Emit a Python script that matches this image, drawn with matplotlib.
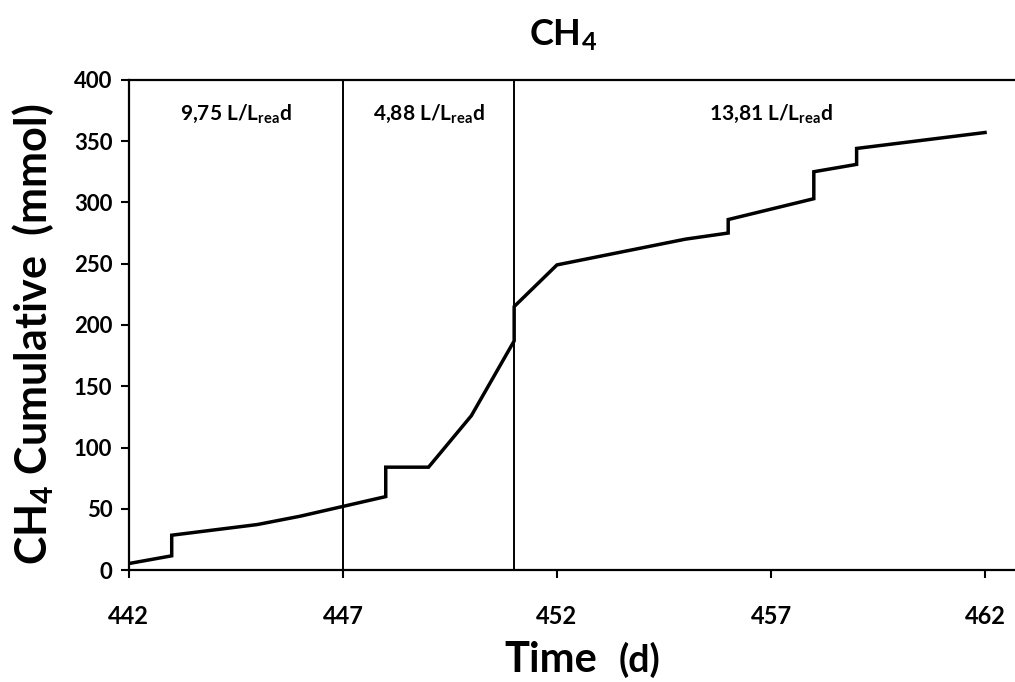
import matplotlib
matplotlib.use("Agg")
import matplotlib.pyplot as plt

# data (time in d, cumulative CH4 in mmol)
time_d = [442, 443, 443, 445, 446, 447, 448, 448, 449, 450, 451, 451,
          452, 455, 456, 456, 458, 458, 459, 459, 462]
ch4_cum = [5.4, 11.7, 28.5, 37.2, 44, 52, 60, 84, 84, 126, 187, 215,
           249, 270, 275, 286, 303, 325, 331, 344, 357]

phase_bounds = [447, 451]
phase_labels = ["9,75 L/L$_{\\mathbf{rea}}$d", "4,88 L/L$_{\\mathbf{rea}}$d",
                "13,81 L/L$_{\\mathbf{rea}}$d"]
phase_label_x = [444.5, 449, 457]

x_ticks = [442, 447, 452, 457, 462]
y_ticks = [0, 50, 100, 150, 200, 250, 300, 350, 400]

plt.rcParams['font.family'] = ['Lato', 'DejaVu Sans']
plt.rcParams['mathtext.fontset'] = 'custom'
plt.rcParams['mathtext.rm'] = 'Lato'
plt.rcParams['mathtext.bf'] = 'Lato:bold'
plt.rcParams['mathtext.it'] = 'Lato:italic'

fig = plt.figure(figsize=(10.15, 6.82), dpi=100)
ax = fig.add_axes([0.127, 0.164, 0.873, 0.719])

ax.plot(time_d, ch4_cum, color='black', lw=2.5, solid_joinstyle='miter')

for xb in phase_bounds:
    ax.axvline(xb, color='black', lw=1.4)

for lx, lab in zip(phase_label_x, phase_labels):
    ax.text(lx, 372, lab, ha='center', va='center', fontsize=15, fontweight='bold')

ax.set_xlim(442, 462.7)
ax.set_ylim(0, 400)
ax.set_xticks(x_ticks)
ax.set_yticks(y_ticks)
ax.tick_params(axis='both', width=1.5, length=6, direction='out')
ax.tick_params(axis='x', labelsize=17, pad=19)
ax.tick_params(axis='y', labelsize=16, pad=6)
for lab in ax.get_xticklabels() + ax.get_yticklabels():
    lab.set_fontweight('bold')

for s in ax.spines.values():
    s.set_linewidth(1.6)
ax.spines['right'].set_visible(False)

fig.text(0.033, 0.51, "CH$_\\mathbf{4}$ Cumulative  (mmol)", rotation=90,
         ha='center', va='center', fontsize=31, fontweight='bold')

fig.text(0.543, 0.015, "Time", ha='center', va='baseline', fontsize=30, fontweight='bold')
fig.text(0.609, 0.015, "(d)", ha='left', va='baseline', fontsize=27, fontweight='bold')

fig.text(0.555, 0.948, "CH$_\\mathbf{4}$", ha='center', va='center', fontsize=26, fontweight='bold')

fig.savefig("out.png", dpi=100)
